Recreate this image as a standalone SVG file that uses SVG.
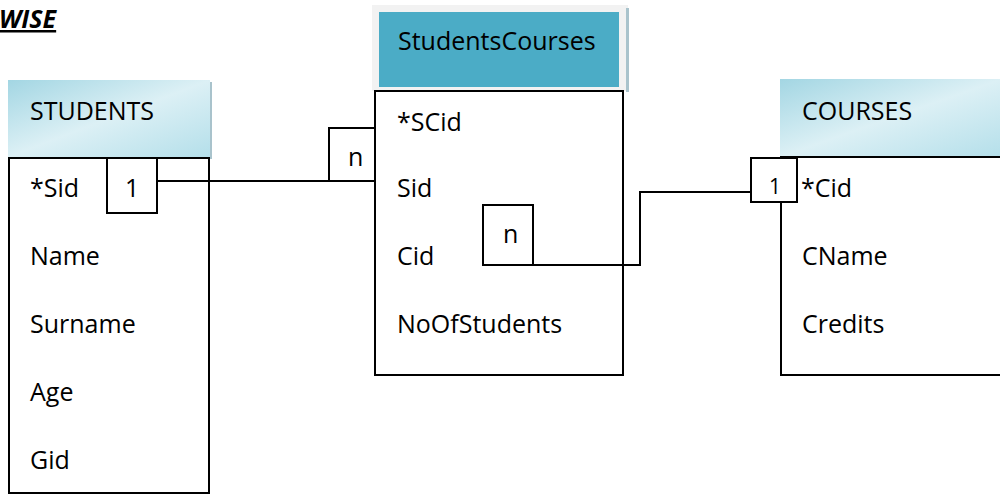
<svg xmlns="http://www.w3.org/2000/svg" width="1000" height="495" viewBox="0 0 1000 495">
<style>
.t{font-family:"Open Sans","Liberation Sans",sans-serif;font-size:25px;fill:#000}
.box{fill:#fff;stroke:#000;stroke-width:2}
.ln{fill:none;stroke:#000;stroke-width:2}
</style>
<defs>
<linearGradient id="hg" x1="0" y1="0" x2="1" y2="1">
<stop offset="0" stop-color="#a3d6e3"/>
<stop offset="0.5" stop-color="#dcf0f5"/>
<stop offset="1" stop-color="#b4dfea"/>
</linearGradient>
</defs>
<rect width="1000" height="495" fill="#fff"/>
<text x="-1" y="28" style="font-family:'Open Sans','Liberation Sans',sans-serif;font-size:25px;font-weight:bold;font-style:italic;text-decoration:underline">WISE</text>

<g id="students">
<rect x="10" y="82" width="202" height="77" fill="#a9c3cc"/>
<rect x="8" y="80" width="202" height="77" fill="url(#hg)"/>
<text class="t" x="30" y="120">STUDENTS</text>
<rect class="box" x="9" y="158" width="200" height="335"/>
<text class="t" x="30" y="197">*Sid</text>
<text class="t" x="30" y="265">Name</text>
<text class="t" x="30" y="333">Surname</text>
<text class="t" x="30" y="401">Age</text>
<text class="t" x="30" y="469">Gid</text>
</g>

<g id="studentscourses">
<rect x="372" y="5" width="256" height="86" fill="#f2f2f2"/>
<rect x="626" y="8" width="3" height="84" fill="#a9c3cc"/>
<rect x="379" y="12" width="240" height="75" fill="#4bacc6"/>
<text class="t" x="398" y="50">StudentsCourses</text>
<rect class="box" x="375" y="91" width="248" height="284"/>
<text class="t" x="397" y="131">*SCid</text>
<text class="t" x="397" y="197">Sid</text>
<text class="t" x="397" y="265">Cid</text>
<text class="t" x="397" y="333">NoOfStudents</text>
</g>

<g id="courses">
<rect x="780" y="79" width="222" height="78" fill="url(#hg)"/>
<rect class="box" x="781" y="157" width="225" height="218"/>
<text class="t" x="802" y="120">COURSES</text>
<text class="t" x="801" y="197">*Cid</text>
<text class="t" x="802" y="265">CName</text>
<text class="t" x="802" y="333">Credits</text>
</g>

<g id="connectors">
<polyline class="ln" points="157,181 329,181"/>
<rect class="box" x="107" y="158" width="50" height="55"/>
<text class="t" x="125" y="197">1</text>
<rect class="box" x="329" y="128" width="46" height="53"/>
<text class="t" x="348" y="166">n</text>
<polyline class="ln" points="533,265 640,265 640,192 751,192"/>
<rect class="box" x="483" y="205" width="50" height="60"/>
<text class="t" x="503" y="243">n</text>
<rect class="box" x="751" y="158" width="46" height="44"/>
<text class="t" x="769" y="194" style="font-size:21px">1</text>
</g>
</svg>
